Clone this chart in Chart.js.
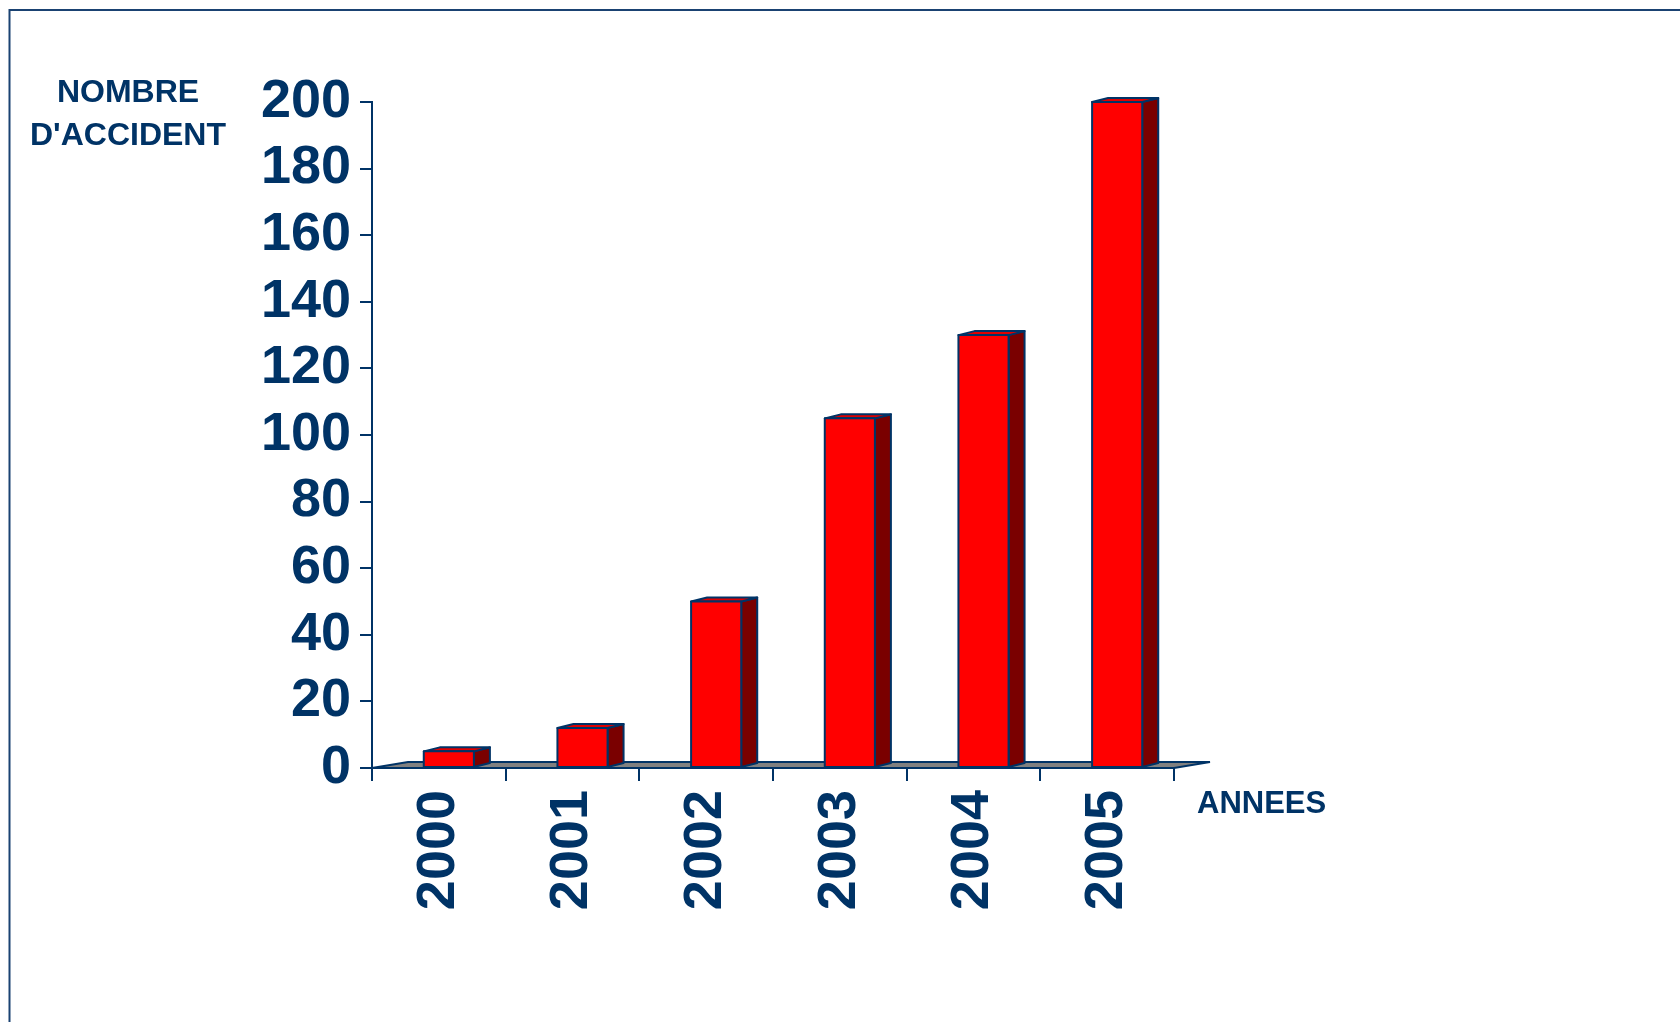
<!DOCTYPE html>
<html>
<head>
<meta charset="utf-8">
<script src="https://cdn.jsdelivr.net/npm/chart.js@4"></script>
<style>
  html, body { margin: 0; padding: 0; background: #fff; }
  #wrap { width: 1680px; height: 1022px; }
</style>
</head>
<body>
<div id="wrap"><canvas id="accidentChart" width="1680" height="1022"></canvas></div>
<script>
// donnees
var annees = ['2000', '2001', '2002', '2003', '2004', '2005'];
var nombreAccidents = [5, 12, 50, 105, 130, 200];
var graduationsY = [0, 20, 40, 60, 80, 100, 120, 140, 160, 180, 200];

var bleu = '#003366';
var police = '"Liberation Sans", Arial, sans-serif';
var profX = 16, profY = 4;   // effet 3D des barres
var solX = 36, solY = 6;     // plancher gris

var cadreEtTextes = {
    id: 'cadreEtTextes',
    beforeDraw: function (chart) {
        var ctx = chart.ctx;
        ctx.save();
        ctx.fillStyle = '#fff';
        ctx.fillRect(0, 0, chart.width, chart.height);
        ctx.strokeStyle = '#1a4272';
        ctx.lineWidth = 2;
        ctx.beginPath();
        ctx.moveTo(9.5, chart.height);
        ctx.lineTo(9.5, 10);
        ctx.lineTo(chart.width, 10);
        ctx.stroke();
        ctx.fillStyle = bleu;
        ctx.font = 'bold 32px ' + police;
        ctx.textAlign = 'center';
        ctx.textBaseline = 'alphabetic';
        ctx.fillText('NOMBRE', 128, 102);
        ctx.fillText("D'ACCIDENT", 128, 145);
        ctx.font = 'bold 31px ' + police;
        ctx.textAlign = 'left';
        ctx.fillText('ANNEES', 1197, 813);
        ctx.restore();
    },
    beforeDatasetsDraw: function (chart) {
        // plancher
        var ctx = chart.ctx, a = chart.chartArea;
        ctx.save();
        ctx.fillStyle = '#808080';
        ctx.strokeStyle = bleu;
        ctx.lineWidth = 2;
        ctx.beginPath();
        ctx.moveTo(a.left, a.bottom);
        ctx.lineTo(a.right, a.bottom);
        ctx.lineTo(a.right + solX, a.bottom - solY);
        ctx.lineTo(a.left + solX, a.bottom - solY);
        ctx.closePath();
        ctx.fill();
        ctx.stroke();
        ctx.restore();
    },
    afterDatasetsDraw: function (chart) {
        var ctx = chart.ctx;
        var meta = chart.getDatasetMeta(0);
        ctx.save();
        ctx.strokeStyle = bleu;
        ctx.lineWidth = 2;
        ctx.lineJoin = 'round';
        meta.data.forEach(function (bar) {
            var w = bar.width;
            var x0 = bar.x - w / 2 + 10, x1 = x0 + w;
            var yt = bar.y, yb = bar.base;
            // cote
            ctx.fillStyle = '#7a0000';
            ctx.beginPath();
            ctx.moveTo(x1, yt);
            ctx.lineTo(x1 + profX, yt - profY);
            ctx.lineTo(x1 + profX, yb - profY);
            ctx.lineTo(x1, yb);
            ctx.closePath();
            ctx.fill();
            ctx.stroke();
            // dessus
            ctx.fillStyle = '#e00000';
            ctx.beginPath();
            ctx.moveTo(x0, yt);
            ctx.lineTo(x0 + profX, yt - profY);
            ctx.lineTo(x1 + profX, yt - profY);
            ctx.lineTo(x1, yt);
            ctx.closePath();
            ctx.fill();
            ctx.stroke();
            // face
            ctx.fillStyle = '#ff0000';
            ctx.fillRect(x0, yt, w, yb - yt);
            ctx.strokeRect(x0, yt, w, yb - yt);
        });
        ctx.restore();
    }
};

var ctxAcc = document.getElementById('accidentChart').getContext('2d');
var accidentChart = new Chart(ctxAcc, {
    type: 'bar',
    data: {
        labels: annees,
        datasets: [{
            label: "Nombre d'accidents",
            data: nombreAccidents,
            backgroundColor: 'rgba(0,0,0,0)',
            borderWidth: 0,
            categoryPercentage: 1,
            barPercentage: 0.375
        }]
    },
    options: {
        responsive: false,
        animation: false,
        layout: { padding: { top: 102, right: 506, bottom: 0, left: 0 } },
        plugins: { legend: { display: false }, tooltip: { enabled: false } },
        scales: {
            x: {
                grid: { drawOnChartArea: false, offset: true, tickLength: 13, color: bleu, lineWidth: 2 },
                border: { color: bleu, width: 2 },
                ticks: {
                    minRotation: 90, maxRotation: 90, padding: 9, autoSkip: false,
                    color: bleu, font: { family: police, size: 54, weight: 'bold' }
                },
                afterFit: function (scale) { scale.height = 254; }
            },
            y: {
                min: 0, max: 200,
                afterBuildTicks: function (scale) {
                    scale.ticks = graduationsY.map(function (v) { return { value: v }; });
                },
                grid: { drawOnChartArea: false, tickLength: 12, color: bleu, lineWidth: 2 },
                border: { color: bleu, width: 2 },
                ticks: {
                    padding: 9, autoSkip: false,
                    color: bleu, font: { family: police, size: 54, weight: 'bold' }
                },
                afterFit: function (scale) { scale.width = 372; }
            }
        }
    },
    plugins: [cadreEtTextes]
});
</script>
</body>
</html>
